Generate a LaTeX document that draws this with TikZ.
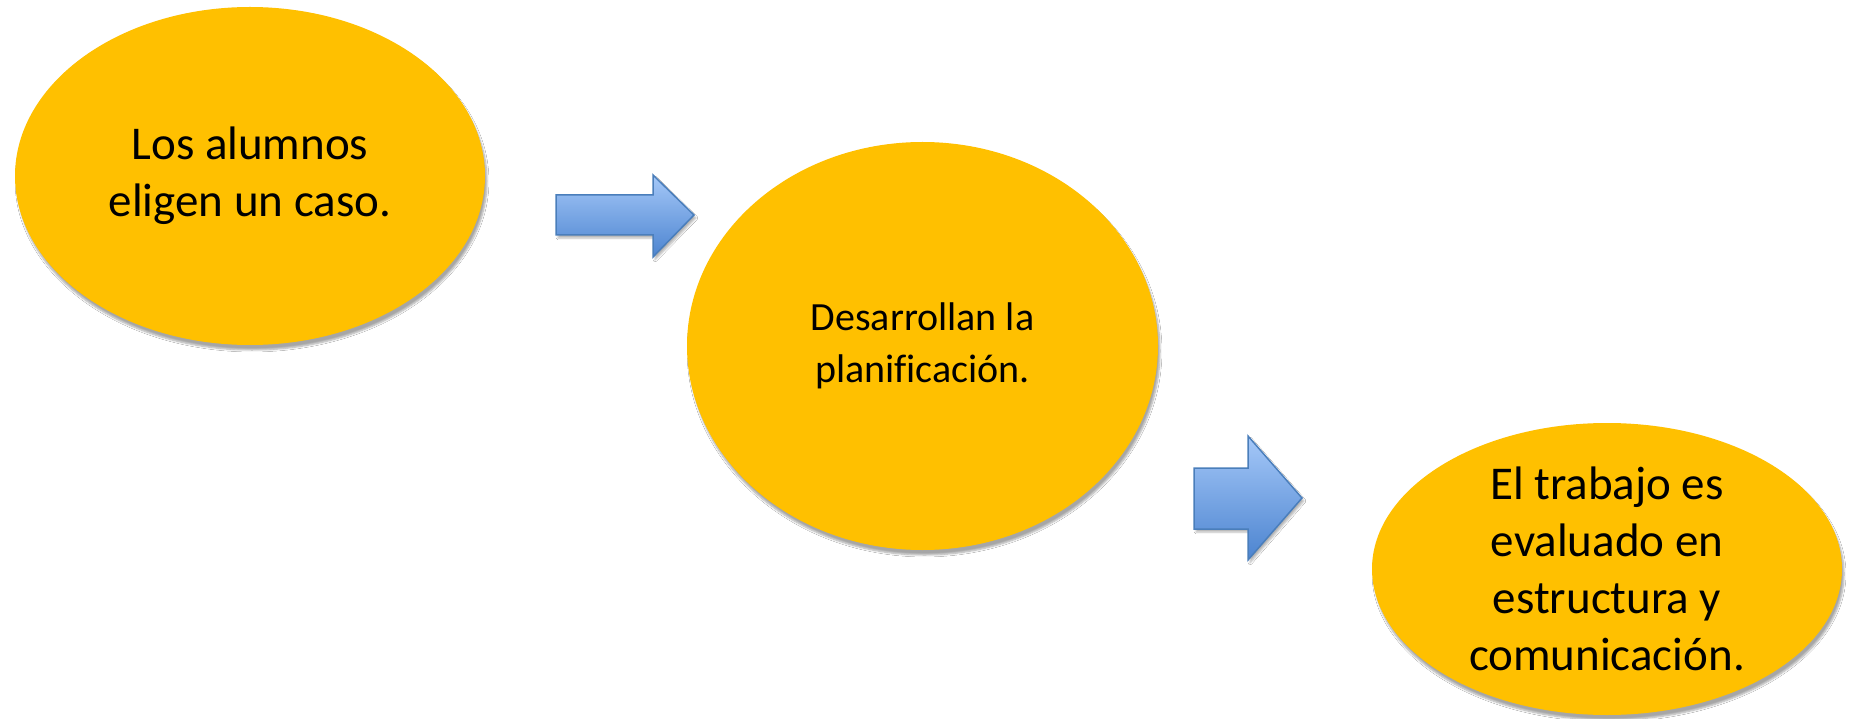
\documentclass[tikz,border=0pt]{standalone}
\usepackage{fontspec}
\setmainfont{Carlito}[Ligatures={NoCommon}]
\usetikzlibrary{shapes.geometric,shadows.blur}
\definecolor{gold}{HTML}{FFC000}
\definecolor{arrowtop}{HTML}{A5C8F8}
\definecolor{arrowbot}{HTML}{4C84D0}
\definecolor{arrowline}{HTML}{4A7EBB}
\tikzset{
  bubble/.style={ellipse, fill=gold, draw=none, inner sep=0pt, align=center,
    blur shadow={shadow xshift=2pt, shadow yshift=-5pt, shadow blur steps=6, shadow opacity=35}},
  blockarrow/.style={draw=arrowline, line width=1.5pt, line join=miter,
    top color=arrowtop, bottom color=arrowbot,
    blur shadow={shadow xshift=2pt, shadow yshift=-3pt, shadow blur steps=4, shadow opacity=30}}
}
\begin{document}
\begin{tikzpicture}[x=1pt,y=-1pt]
\useasboundingbox (0,0) rectangle (1850,719);
\fill[white] (0,0) rectangle (1850,719);

\node[bubble, minimum width=470pt, minimum height=338pt,
  font=\fontsize{47}{57}\selectfont] (e1) at (250,176)
  {Los alumnos\\eligen un caso.};
\node[bubble, minimum width=471pt, minimum height=408pt,
  font=\fontsize{40}{52}\selectfont] (e2) at (922.5,346)
  {Desarrollan la\\planificación.};
\node[bubble, minimum width=470pt, minimum height=292pt,
  font=\fontsize{47}{57}\selectfont] (e3) at (1607,569)
  {El trabajo es\\evaluado en\\estructura y\\comunicación.};

\path[blockarrow] (556,195) -- (653,195) -- (653,175) -- (694,215) -- (653,257) -- (653,235) -- (556,235) -- cycle;
\path[blockarrow] (1194,468) -- (1248,468) -- (1248,436) -- (1302,498) -- (1248,560) -- (1248,529) -- (1194,529) -- cycle;
\end{tikzpicture}
\end{document}
